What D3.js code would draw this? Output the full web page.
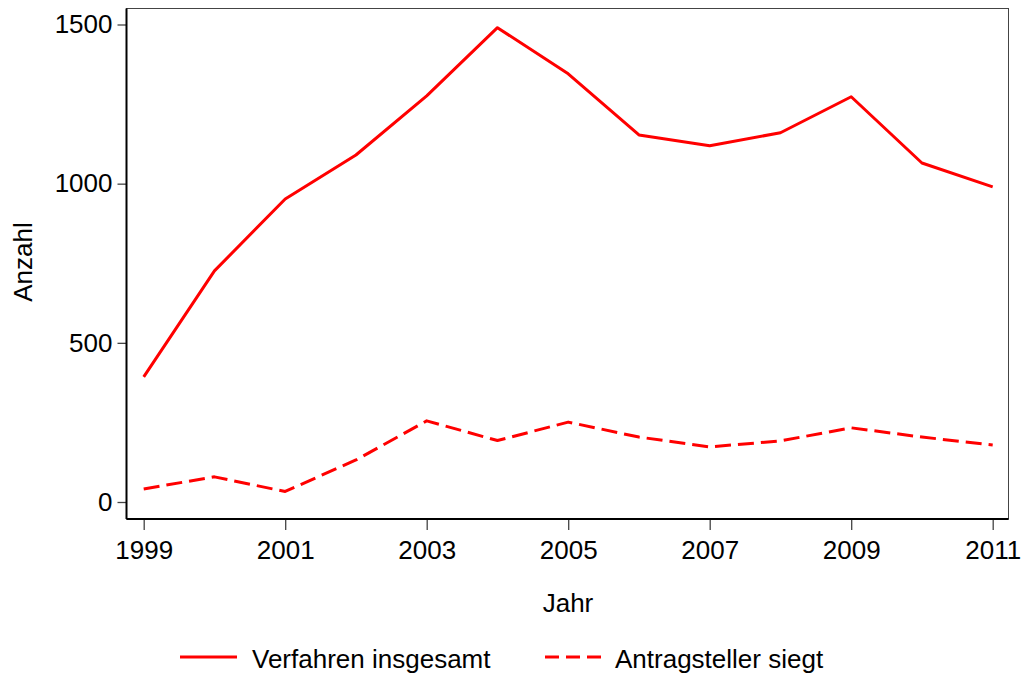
<!DOCTYPE html>
<html>
<head>
<meta charset="utf-8">
<script src="https://cdn.jsdelivr.net/npm/d3@7"></script>
<style>
  body { margin: 0; background: #fff; }
  svg { display: block; font-family: "Liberation Sans", Arial, sans-serif; }
</style>
</head>
<body>
<svg id="chart" width="1023" height="675"></svg>
<script>
// values
const years = [1999, 2000, 2001, 2002, 2003, 2004, 2005, 2006, 2007, 2008, 2009, 2010, 2011];
const insgesamt = [393, 726, 952, 1090, 1276, 1490, 1345, 1153, 1119, 1160, 1273, 1065, 990];
const siegt = [41, 79, 33, 132, 255, 193, 251, 204, 173, 192, 233, 204, 179];
const xTicks = [1999, 2001, 2003, 2005, 2007, 2009, 2011];
const yTicks = [0, 500, 1000, 1500];
const seriesNames = ["Verfahren insgesamt", "Antragsteller siegt"];

const red = "#ff0000";
const dash = "16,7";
const fs = "26px";

const box = { left: 126.5, top: 8.5, right: 1008.5, bottom: 519 };

const x = d3.scaleLinear().domain([1999, 2011]).range([143.7, 992.7]);
const y = d3.scaleLinear().domain([0, 1500]).range([502, 24.5]);

const svg = d3.select("#chart");

// plot region frame
svg.append("rect")
    .attr("x", box.left).attr("y", box.top)
    .attr("width", box.right - box.left).attr("height", box.bottom - box.top)
    .attr("fill", "none").attr("stroke", "#444").attr("stroke-width", 1);

// y axis
const yAxis = svg.append("g")
    .attr("transform", `translate(${box.left},0)`)
    .call(d3.axisLeft(y).tickValues(yTicks).tickSize(9).tickPadding(5).tickFormat(d3.format("d")));
yAxis.select(".domain").remove();
yAxis.append("line").attr("x1", 0).attr("x2", 0).attr("y1", box.top).attr("y2", box.bottom)
    .attr("stroke", "#000").attr("stroke-width", 2);

// x axis
const xAxis = svg.append("g")
    .attr("transform", `translate(0,${box.bottom})`)
    .call(d3.axisBottom(x).tickValues(xTicks).tickSize(11).tickPadding(11).tickFormat(d3.format("d")));
xAxis.select(".domain").remove();
xAxis.append("line").attr("x1", box.left).attr("x2", box.right).attr("y1", 0).attr("y2", 0)
    .attr("stroke", "#000").attr("stroke-width", 2);

svg.selectAll(".tick line").attr("stroke", "#444").attr("stroke-width", 1.3);
svg.selectAll(".tick text")
    .attr("fill", "#000")
    .style("font-size", fs)
    .style("font-family", "'Liberation Sans', Arial, sans-serif");

// axis titles
svg.append("text")
    .attr("transform", "translate(32,262) rotate(-90)")
    .attr("text-anchor", "middle")
    .style("font-size", fs)
    .text("Anzahl");

svg.append("text")
    .attr("x", 568).attr("y", 612)
    .attr("text-anchor", "middle")
    .style("font-size", fs)
    .text("Jahr");

// series
const line = d3.line()
    .x((d, i) => x(years[i]))
    .y(d => y(d));

svg.append("path")
    .datum(insgesamt)
    .attr("d", line)
    .attr("fill", "none").attr("stroke", red).attr("stroke-width", 3)
    .attr("stroke-linejoin", "round");

svg.append("path")
    .datum(siegt)
    .attr("d", line)
    .attr("fill", "none").attr("stroke", red).attr("stroke-width", 3)
    .attr("stroke-dasharray", dash)
    .attr("stroke-linejoin", "round");

// legend
const legend = [
  { name: seriesNames[0], x1: 180, x2: 237, tx: 252, dash: null },
  { name: seriesNames[1], x1: 545, x2: 602, tx: 615, dash: "14,7" }
];
const lg = svg.append("g").selectAll("g").data(legend).join("g");
lg.append("line")
    .attr("x1", d => d.x1).attr("x2", d => d.x2)
    .attr("y1", 657).attr("y2", 657)
    .attr("stroke", red).attr("stroke-width", 3)
    .attr("stroke-dasharray", d => d.dash);
lg.append("text")
    .attr("x", d => d.tx).attr("y", 667.5)
    .style("font-size", fs)
    .text(d => d.name);
</script>
</body>
</html>
